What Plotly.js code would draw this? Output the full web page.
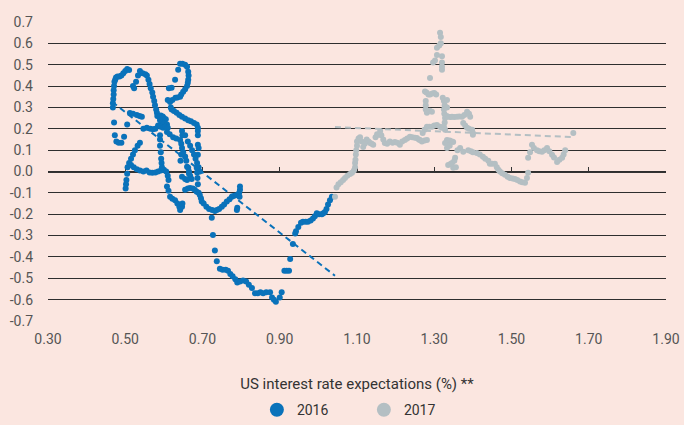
<!DOCTYPE html>
<html>
<head>
<meta charset="utf-8">
<script src="https://cdn.plot.ly/plotly-3.0.1.min.js"></script>
<style>html,body{margin:0;padding:0;background:#FBE6E0;}#chart{width:684px;height:425px;}</style>
</head>
<body>
<div id="chart"></div>
<script>
// Series names
const seriesNames = ['2016', '2017'];

// 2016: x = US interest rate expectations (%), y = value
const x2016 = [
0.468,0.468,0.469,0.470,0.470,0.471,0.472,0.474,0.476,0.480,0.485,0.490,0.495,0.500,0.505,0.510,
0.471,0.473,0.477,0.483,0.490,0.497,0.505,
0.501,0.502,0.503,0.505,0.506,0.510,0.515,0.520,0.525,0.532,0.538,
0.515,0.522,0.530,0.538,0.547,0.555,0.563,0.570,0.578,0.585,0.592,0.600,0.606,0.610,0.612,0.608,0.612,0.616,0.622,0.629,0.635,0.640,0.642,0.647,0.648,
0.520,0.523,0.528,0.533,0.538,0.545,0.552,0.556,0.560,0.563,0.566,0.570,0.572,0.575,0.577,0.580,0.582,
0.629,0.637,0.642,0.648,0.655,0.660,0.663,0.664,0.663,0.662,0.660,0.655,0.650,0.645,0.642,0.635,0.630,0.622,0.616,0.613,0.620,0.610,
0.618,0.620,0.626,0.633,0.640,0.647,0.655,0.663,0.670,0.678,0.685,0.688,0.688,0.688,0.688,0.690,0.688,
0.583,0.588,0.592,0.597,0.600,0.605,0.590,0.595,0.600,0.608,0.585,0.592,0.598,0.604,0.610,
0.547,0.556,0.565,0.572,0.578,0.512,0.520,0.530,0.537,0.543,
0.608,0.615,0.624,0.632,0.642,0.645,0.647,0.650,0.655,0.658,0.660,0.665,0.668,0.672,
0.655,0.662,0.668,0.673,0.678,0.682,0.686,0.690,0.693,
0.590,0.590,0.590,0.592,0.593,0.594,0.595,
0.647,0.648,0.645,0.643,
0.647,0.655,0.660,0.655,0.662,0.668,0.675,0.680,0.685,0.690,0.693,0.696,0.698,0.703,0.710,0.717,0.725,0.732,0.737,0.743,0.750,0.756,0.763,0.770,0.776,0.782,0.789,0.795,0.797,0.797,0.796,0.790,0.789,
0.685,0.686,0.687,0.688,0.663,0.665,
0.724,0.727,0.732,0.737,0.745,0.752,0.760,0.766,0.772,0.778,0.785,0.790,0.797,0.805,0.813,0.820,0.828,0.836,0.843,0.850,0.857,0.865,0.875,0.880,0.885,0.890,0.900,0.905,
0.912,0.918,0.924,0.927,0.934,0.940,0.942,0.948,0.955,0.960,0.967,0.973,0.980,0.986,0.991,0.996,1.002,1.009,1.013,1.017,1.021,1.025,1.030,1.035
];
const y2016 = [
0.30,0.32,0.34,0.36,0.38,0.40,0.42,0.43,0.44,0.445,0.445,0.45,0.46,0.47,0.48,0.475,
0.23,0.17,0.14,0.135,0.135,0.163,0.22,
-0.08,-0.06,-0.04,-0.01,0.02,0.04,0.06,0.08,0.10,0.12,0.135,
0.03,0.02,0.01,0.005,0.0,0.005,-0.005,-0.006,-0.005,0.0,0.005,0.008,0.0,-0.02,-0.04,-0.07,-0.09,-0.118,-0.128,-0.135,-0.15,-0.165,-0.18,-0.165,-0.15,
0.40,0.39,0.42,0.45,0.47,0.46,0.455,0.45,0.43,0.41,0.39,0.37,0.35,0.33,0.31,0.29,0.275,
0.43,0.477,0.505,0.505,0.50,0.49,0.467,0.45,0.43,0.415,0.40,0.385,0.373,0.36,0.35,0.347,0.345,0.335,0.326,0.39,0.392,0.335,
0.30,0.29,0.283,0.275,0.265,0.256,0.248,0.24,0.235,0.227,0.22,0.205,0.19,0.17,0.125,0.11,0.078,
0.26,0.255,0.262,0.258,0.25,0.245,0.24,0.23,0.225,0.22,0.215,0.21,0.205,0.21,0.205,
0.20,0.205,0.20,0.198,0.20,0.274,0.27,0.265,0.26,0.256,
0.185,0.175,0.16,0.155,0.148,0.13,0.11,0.09,0.07,0.05,0.022,0.0,-0.02,-0.035,
0.17,0.14,0.12,0.10,0.08,0.06,0.04,0.02,0.0,
0.17,0.15,0.12,0.09,0.06,0.04,0.02,
0.19,0.17,0.08,0.05,
-0.025,-0.035,-0.04,-0.085,-0.08,-0.077,-0.08,-0.085,-0.095,-0.10,-0.11,-0.125,-0.14,-0.15,-0.165,-0.175,-0.18,-0.185,-0.18,-0.175,-0.165,-0.155,-0.14,-0.13,-0.118,-0.113,-0.11,-0.10,-0.085,-0.07,-0.118,-0.17,-0.18,
0.017,-0.005,-0.03,-0.06,0.017,-0.01,
-0.217,-0.297,-0.37,-0.42,-0.455,-0.46,-0.46,-0.465,-0.48,-0.49,-0.505,-0.52,-0.515,-0.51,-0.515,-0.53,-0.545,-0.57,-0.57,-0.565,-0.57,-0.565,-0.565,-0.59,-0.60,-0.61,-0.59,-0.565,
-0.465,-0.465,-0.465,-0.41,-0.34,-0.29,-0.28,-0.26,-0.24,-0.235,-0.235,-0.235,-0.23,-0.22,-0.21,-0.195,-0.2,-0.2,-0.195,-0.19,-0.175,-0.155,-0.135,-0.118
];

// 2017
const x2017 = [
1.043,1.047,1.052,1.058,1.064,1.069,1.075,1.082,1.087,1.092,1.095,1.095,1.096,1.097,1.098,1.100,1.100,1.104,1.108,1.112,1.116,1.120,1.125,1.130,1.134,1.138,1.142,1.148,1.152,1.155,1.160,1.163,1.168,1.172,1.178,1.185,1.192,1.198,1.204,1.211,1.217,1.224,1.230,1.237,1.243,1.250,1.255,1.260,1.263,1.268,1.275,1.281,1.270,1.275,1.281,1.287,1.294,1.300,1.307,1.315,1.320,1.328,
1.315,1.317,1.317,1.313,1.307,1.307,1.302,1.297,1.320,1.320,1.320,1.320,1.289,
1.276,1.280,1.285,1.289,1.295,1.300,1.305,1.278,1.278,1.278,1.281,1.288,1.294,
1.322,1.325,1.327,1.325,1.326,1.328,1.327,1.325,1.333,1.333,1.332,
1.336,1.342,1.346,1.352,1.359,1.365,1.372,1.378,1.385,1.390,1.393,1.375,1.380,1.385,1.390,1.398,1.400,1.400,
1.333,1.340,1.346,1.349,1.333,1.340,1.354,1.352,1.346,1.336,1.342,1.349,1.356,1.360,1.367,1.375,1.328,
1.388,1.395,1.400,1.410,1.418,1.426,1.432,1.440,1.444,1.450,1.457,1.462,1.466,1.470,1.476,1.483,1.490,1.496,1.503,1.509,1.515,1.522,1.528,1.535,1.540,1.543,
1.543,1.548,1.553,1.558,1.566,1.572,1.579,1.585,1.592,1.598,1.605,1.610,1.618,1.624,1.631,1.635,1.639,1.660
];
const y2017 = [
-0.118,-0.075,-0.06,-0.05,-0.04,-0.03,-0.02,-0.012,-0.006,0.005,0.02,0.04,0.055,0.08,0.10,0.12,0.14,0.155,0.16,0.14,0.115,0.13,0.15,0.14,0.134,0.13,0.125,0.16,0.175,0.172,0.19,0.17,0.15,0.134,0.13,0.14,0.135,0.138,0.135,0.125,0.14,0.148,0.155,0.163,0.16,0.158,0.157,0.15,0.148,0.14,0.145,0.148,0.18,0.195,0.21,0.21,0.21,0.215,0.218,0.21,0.205,0.195,
0.65,0.63,0.60,0.59,0.58,0.545,0.52,0.51,0.54,0.51,0.49,0.477,0.438,
0.375,0.37,0.36,0.36,0.365,0.367,0.36,0.33,0.31,0.29,0.275,0.285,0.28,
0.345,0.33,0.31,0.29,0.27,0.25,0.23,0.21,0.335,0.30,0.26,
0.256,0.255,0.256,0.255,0.256,0.258,0.256,0.265,0.28,0.27,0.256,0.227,0.215,0.205,0.20,0.195,0.18,0.172,
0.148,0.145,0.14,0.138,0.11,0.12,0.064,0.05,0.04,0.03,0.035,0.017,0.02,0.10,0.11,0.092,0.134,
0.10,0.095,0.09,0.087,0.08,0.069,0.06,0.05,0.036,0.036,0.036,0.02,0.008,0.0,-0.008,-0.015,-0.025,-0.03,-0.033,-0.035,-0.04,-0.047,-0.05,-0.053,-0.03,-0.006,
0.064,0.09,0.125,0.11,0.10,0.095,0.092,0.10,0.11,0.095,0.078,0.065,0.045,0.055,0.064,0.08,0.10,0.18
];

// Dashed trend lines (end points)
const trend2016X = [0.466, 1.043];
const trend2016Y = [0.326, -0.488];
const trend2017X = [1.043, 1.661];
const trend2017Y = [0.208, 0.161];

// Tick labels
const yTickVals = [-0.7,-0.6,-0.5,-0.4,-0.3,-0.2,-0.1,0,0.1,0.2,0.3,0.4,0.5,0.6,0.7];
const yTickText = ['-0.7','-0.6','-0.5','-0.4','-0.3','-0.2','-0.1','0.0','0.1','0.2','0.3','0.4','0.5','0.6','0.7'];
const xTickVals = [0.3,0.5,0.7,0.9,1.1,1.3,1.5,1.7,1.9];
const xTickText = ['0.30','0.50','0.70','0.90','1.10','1.30','1.50','1.70','1.90'];

const BLUE = '#0A72BA';
const GREY = '#B4BFC3';
const BG = '#FBE6E0';
const FONT = "'Liberation Sans Narrow', 'Roboto', sans-serif";

const traces = [
  {x: x2016, y: y2016, type: 'scatter', mode: 'markers', name: seriesNames[0], showlegend: false,
   marker: {color: BLUE, size: 6}},
  {x: x2017, y: y2017, type: 'scatter', mode: 'markers', name: seriesNames[1], showlegend: false,
   marker: {color: GREY, size: 6}},
  {x: trend2016X, y: trend2016Y, type: 'scatter', mode: 'lines', showlegend: false, xaxis: 'x2',
   line: {color: BLUE, width: 2, dash: '6px,4px'}},
  {x: trend2017X, y: trend2017Y, type: 'scatter', mode: 'lines', showlegend: false,
   line: {color: GREY, width: 2, dash: '6px,4px'}},
  {x: [null], y: [null], type: 'scatter', mode: 'markers', name: seriesNames[0],
   marker: {color: BLUE, size: 14}},
  {x: [null], y: [null], type: 'scatter', mode: 'markers', name: seriesNames[1],
   marker: {color: GREY, size: 14}}
];

const layout = {
  width: 684, height: 425,
  paper_bgcolor: BG, plot_bgcolor: BG,
  margin: {l: 48, r: 18, t: 22, b: 104, autoexpand: false},
  font: {family: FONT, size: 14, color: '#3c3c3c'},
  xaxis: {
    range: [0.3, 1.9], tickvals: xTickVals, ticktext: xTickText,
    showgrid: false, zeroline: false, showline: false, ticks: '',
    ticklabelstandoff: 8,
    tickfont: {family: FONT, size: 14, color: '#555'},
    title: {text: 'US interest rate expectations (%) **', font: {family: FONT, size: 15, color: '#333'}, standoff: 32},
    automargin: false
  },
  xaxis2: {
    range: [0.3, 1.9], overlaying: 'x', anchor: 'free', position: 0.5, side: 'bottom',
    tickvals: xTickVals, showticklabels: false, ticks: 'inside', ticklen: 5, tickwidth: 1, tickcolor: '#333',
    showline: true, linecolor: '#333', linewidth: 1, showgrid: false, zeroline: false, layer: 'below traces'
  },
  yaxis: {
    range: [-0.7, 0.7], tickvals: yTickVals, ticktext: yTickText,
    showgrid: true, gridcolor: '#2e2e2e', gridwidth: 1, zeroline: false, showline: false, ticks: '',
    ticklabelstandoff: 14,
    tickfont: {family: FONT, size: 14, color: '#555'},
    automargin: false
  },
  showlegend: true,
  legend: {
    orientation: 'h', xref: 'container', yref: 'container', x: 0.532, xanchor: 'center', y: 0.035, yanchor: 'middle',
    font: {family: FONT, size: 14, color: '#333'}, bgcolor: 'rgba(0,0,0,0)',
    entrywidth: 62, entrywidthmode: 'pixels', itemsizing: 'trace'
  }
};

Plotly.newPlot('chart', traces, layout, {displayModeBar: false, staticPlot: true});
</script>
</body>
</html>
